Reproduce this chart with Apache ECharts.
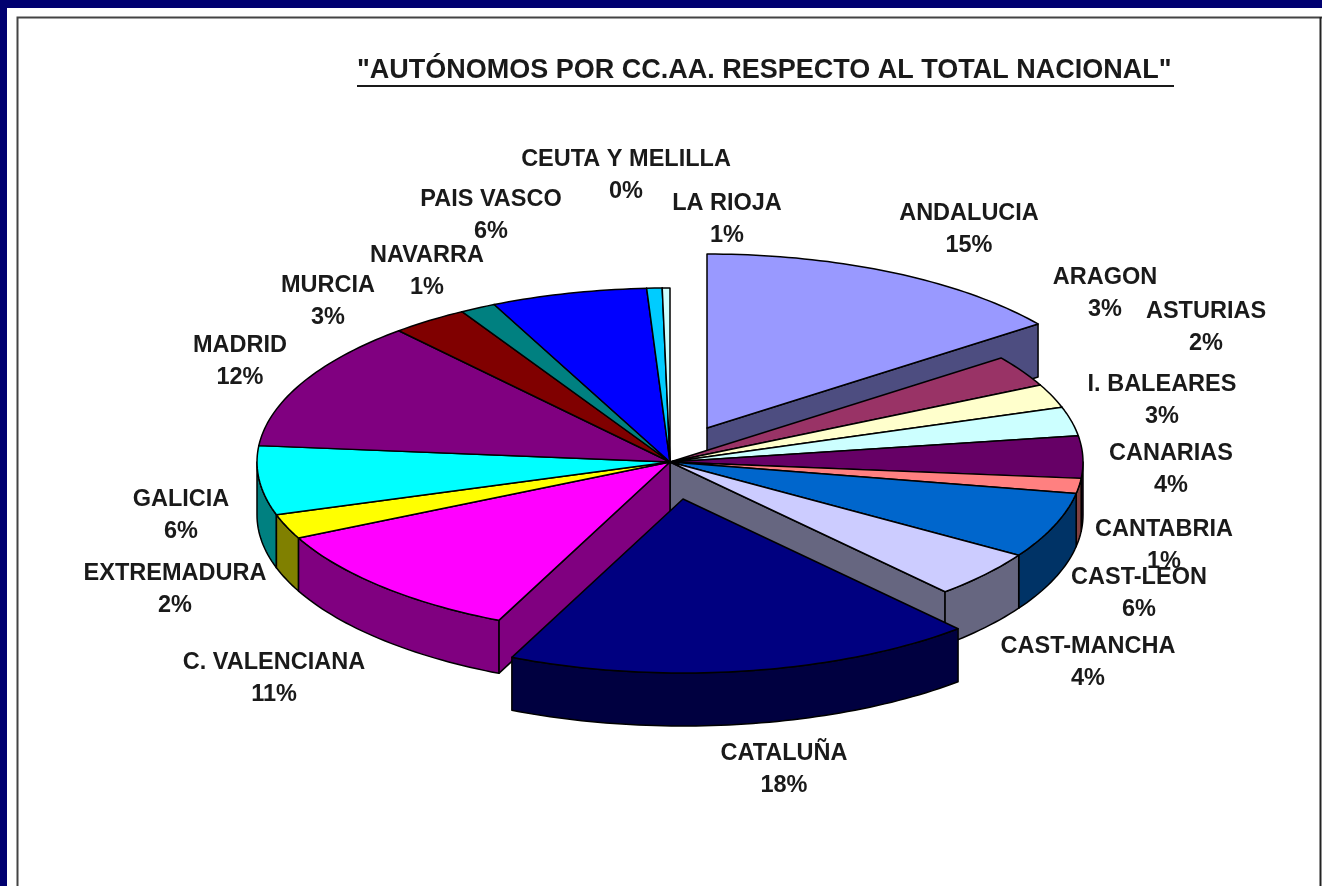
<!DOCTYPE html>
<html>
<head>
<meta charset="utf-8">
<title>Autónomos por CC.AA.</title>
<script src="https://cdn.jsdelivr.net/npm/echarts@6/dist/echarts.min.js"></script>
<style>
  html, body { margin: 0; padding: 0; background: #fff; }
  #main { width: 1322px; height: 886px; }
</style>
</head>
<body>
<div id="main"></div>
<script>
// datos (porcentaje del total nacional)
var categories = ['ANDALUCIA', 'ARAGON', 'ASTURIAS', 'I. BALEARES', 'CANARIAS', 'CANTABRIA',
    'CAST-LEON', 'CAST-MANCHA', 'CATALUÑA', 'C. VALENCIANA', 'EXTREMADURA', 'GALICIA',
    'MADRID', 'MURCIA', 'NAVARRA', 'PAIS VASCO', 'LA RIOJA', 'CEUTA Y MELILLA'];
var values = [14.8, 2.9, 2.2, 2.7, 3.9, 1.4, 6.1, 4.4, 18.4, 11.0, 2.3, 6.4, 12.1, 3.0, 1.4, 6.1, 0.6, 0.3];
var colors = ['#9999FF', '#993366', '#FFFFCC', '#CCFFFF', '#660066', '#FF8080', '#0066CC', '#CCCCFF',
    '#000080', '#FF00FF', '#FFFF00', '#00FFFF', '#800080', '#800000', '#008080', '#0000FF', '#00CCFF', '#CCFFFF'];
// porciones separadas del centro [dx, dy]
var explode = { 0: [37, -34], 8: [13, 37] };
// centro de cada etiqueta
var labelPos = [[969, 230], [1105, 294], [1206, 328], [1162, 401], [1171, 470], [1164, 546],
    [1139, 594], [1088, 663], [784, 770], [274, 679], [175, 590], [181, 516],
    [240, 362], [328, 302], [427, 272], [491, 216], [727, 220], [626, 176]];

var cx = 670, cy = 462, rx = 413, ry = 174, depth = 53;

var total = values.reduce(function (a, b) { return a + b; }, 0);
var starts = [], acc = 0;
values.forEach(function (v) { starts.push(acc / total * 2 * Math.PI); acc += v; });

function sliceGeom(i) {
    var off = explode[i] || [0, 0];
    return {
        ox: cx + off[0],
        oy: cy + off[1],
        a0: starts[i],
        a1: starts[i] + values[i] / total * 2 * Math.PI
    };
}
function rimPoint(g, t, dz) {
    return [g.ox + rx * Math.sin(t), g.oy - ry * Math.cos(t) + dz];
}
function arcPoints(g, from, to, dz) {
    var pts = [], n = Math.max(2, Math.ceil((to - from) / 0.02));
    for (var k = 0; k <= n; k++) pts.push(rimPoint(g, from + (to - from) * k / n, dz));
    return pts;
}
function darker(hex) {
    var n = parseInt(hex.slice(1), 16);
    return 'rgb(' + (n >> 16 & 255) / 2 + ',' + (n >> 8 & 255) / 2 + ',' + (n & 255) / 2 + ')';
}
var edge = { stroke: '#000', lineWidth: 1.5, lineJoin: 'round' };
function poly(points, fill, z2) {
    return { type: 'polygon', z2: z2, shape: { points: points }, style: Object.assign({ fill: fill }, edge) };
}

// paredes visibles: caras radiales y borde exterior, de atras hacia delante
function renderWall(params) {
    var i = params.dataIndex, g = sliceGeom(i), side = darker(colors[i]);
    var mid = (g.a0 + g.a1) / 2;
    var z = Math.round(-Math.cos(mid) * 100 + g.oy) + 1000;
    var apexTop = [g.ox, g.oy], apexBot = [g.ox, g.oy + depth];
    var children = [];
    if (Math.sin(g.a0) < 0) {
        children.push(poly([apexTop, rimPoint(g, g.a0, 0), rimPoint(g, g.a0, depth), apexBot], side, z));
    }
    if (Math.sin(g.a1) > 0) {
        children.push(poly([apexTop, rimPoint(g, g.a1, 0), rimPoint(g, g.a1, depth), apexBot], side, z));
    }
    // solo la parte del borde que mira hacia delante
    var from = Math.max(g.a0, Math.PI / 2), to = Math.min(g.a1, Math.PI * 1.5);
    if (to > from) {
        var top = arcPoints(g, from, to, 0), bottom = arcPoints(g, from, to, depth).reverse();
        children.push(poly(top.concat(bottom), side, z + 1));
    }
    return { type: 'group', children: children };
}
// cara superior
function renderTop(params) {
    var i = params.dataIndex, g = sliceGeom(i);
    return poly([[g.ox, g.oy]].concat(arcPoints(g, g.a0, g.a1, 0)), colors[i], i);
}
function renderLabel(params) {
    var i = params.dataIndex;
    return {
        type: 'text',
        x: labelPos[i][0],
        y: labelPos[i][1],
        style: {
            text: categories[i] + '\n' + Math.round(values[i]) + '%',
            align: 'center',
            verticalAlign: 'middle',
            lineHeight: 32,
            font: 'bold 23.5px "Liberation Sans", Arial, sans-serif',
            fill: '#1a1a1a'
        }
    };
}

var chartDom = document.getElementById('main');
var myChart = echarts.init(chartDom);
var seriesData = values.map(function (v, i) { return { name: categories[i], value: v }; });
var option = {
    animation: false,
    backgroundColor: '#fff',
    title: {
        text: '"AUTÓNOMOS POR CC.AA. RESPECTO AL TOTAL NACIONAL"',
        left: 357,
        top: 57,
        padding: 0,
        textStyle: { fontFamily: '"Liberation Sans", Arial, sans-serif', fontWeight: 'bold', fontSize: 27, color: '#1a1a1a' }
    },
    graphic: [
        // marco de la captura
        { type: 'rect', silent: true, shape: { x: 0, y: 0, width: 1322, height: 8 }, style: { fill: '#000070' } },
        { type: 'rect', silent: true, shape: { x: 0, y: 0, width: 7, height: 886 }, style: { fill: '#000070' } },
        { type: 'polyline', silent: true, shape: { points: [[17.5, 886], [17.5, 17.5], [1322, 17.5]] }, style: { stroke: '#444', lineWidth: 2, fill: null } },
        { type: 'line', silent: true, shape: { x1: 1320.5, y1: 17, x2: 1320.5, y2: 886 }, style: { stroke: '#222', lineWidth: 2 } },
        // subrayado del titulo
        { type: 'line', silent: true, shape: { x1: 357, y1: 86, x2: 1174, y2: 86 }, style: { stroke: '#1a1a1a', lineWidth: 2 } }
    ],
    series: [
        { type: 'custom', coordinateSystem: 'none', silent: true, z: 2, renderItem: renderWall, data: seriesData },
        { type: 'custom', coordinateSystem: 'none', silent: true, z: 3, renderItem: renderTop, data: seriesData },
        { type: 'custom', coordinateSystem: 'none', silent: true, z: 4, renderItem: renderLabel, data: seriesData }
    ]
};
option && myChart.setOption(option);
</script>
</body>
</html>
